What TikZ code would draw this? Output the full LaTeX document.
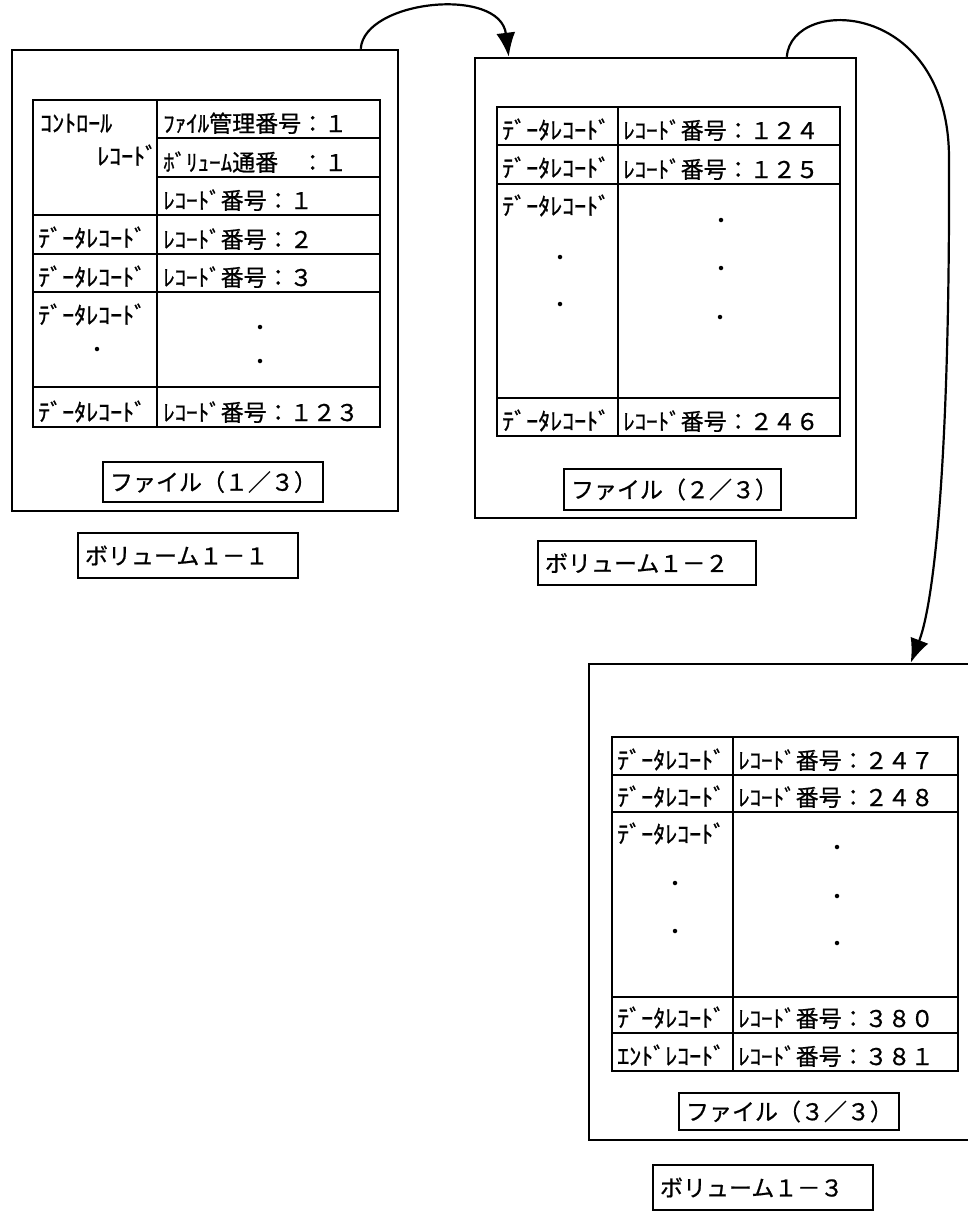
\documentclass[tikz,border=0pt]{standalone}
\usepackage{fontspec}
\setmainfont{Noto Sans CJK JP}[FakeBold=0.8]
\usetikzlibrary{arrows.meta}
\tikzset{
  ln/.style={line width=2.5pt},
  volbox/.style={draw, line width=2.5pt, inner sep=0pt},
  lbl/.style={draw, line width=2.5pt, inner sep=0pt, font=\fontsize{23}{26}\selectfont, align=left},
  lt/.style={inner sep=0pt, anchor=base west, font=\fontsize{24}{26}\selectfont},
  rt/.style={inner sep=0pt, anchor=base west, font=\fontsize{23}{26}\selectfont},
  dotc/.style={fill, circle, inner sep=0pt, minimum size=4.5pt},
  link/.style={line width=2.2pt, -{Latex[length=24pt,width=19pt]}}
}
\begin{document}
\begin{tikzpicture}[x=1pt,y=-1pt]
\useasboundingbox (0,0) rectangle (968,1213);
\begin{scope}
\clip (0,0) rectangle (968,1213);
% outer boxes
\node[volbox, minimum width=386pt, minimum height=461pt] (v1) at (205,280.5) {};
\node[volbox, minimum width=381pt, minimum height=460pt] (v2) at (665.5,288) {};
\node[volbox, minimum width=421pt, minimum height=476pt] (v3) at (799.5,902) {};

% ---------- table 1 ----------
\draw[ln] (33,100) rectangle (380,427);
\draw[ln] (157,100) -- (157,427);
\draw[ln] (157,138) -- (380,138);
\draw[ln] (157,177) -- (380,177);
\foreach \yy in {215,254,292,387} \draw[ln] (33,\yy) -- (380,\yy);
\node[lt] (t1a) at (40,132) {ｺﾝﾄﾛｰﾙ};
\node[lt] (t1b) at (97,165) {ﾚｺｰﾄﾞ};
\node[rt] (t1c) at (163,132) {ﾌｧｲﾙ管理番号：１};
\node[rt] (t1d) at (163,171) {ﾎﾞﾘｭｰﾑ通番　：１};
\node[rt] (t1e) at (163,209) {ﾚｺｰﾄﾞ番号：１};
\node[lt] (t1f) at (38,247) {ﾃﾞｰﾀﾚｺｰﾄﾞ};
\node[rt] (t1g) at (163,248) {ﾚｺｰﾄﾞ番号：２};
\node[lt] (t1h) at (38,286) {ﾃﾞｰﾀﾚｺｰﾄﾞ};
\node[rt] (t1i) at (163,286) {ﾚｺｰﾄﾞ番号：３};
\node[lt] (t1j) at (38,324) {ﾃﾞｰﾀﾚｺｰﾄﾞ};
\node[dotc] (d1a) at (97,349) {};
\node[dotc] (d1b) at (260,327) {};
\node[dotc] (d1c) at (260,361) {};
\node[lt] (t1k) at (38,421) {ﾃﾞｰﾀﾚｺｰﾄﾞ};
\node[rt] (t1l) at (163,421) {ﾚｺｰﾄﾞ番号：１２３};
\node[lbl, minimum width=220pt, minimum height=40pt, text width=206pt] (f1) at (213,482) {ファイル（１／３）};
\node[lbl, minimum width=220pt, minimum height=45pt, text width=206pt] (l1) at (188,555.5) {ボリューム１－１};

% ---------- table 2 ----------
\draw[ln] (497,107) rectangle (840,436);
\draw[ln] (618,107) -- (618,436);
\foreach \yy in {145,184,398} \draw[ln] (497,\yy) -- (840,\yy);
\node[lt] (t2a) at (502,139) {ﾃﾞｰﾀﾚｺｰﾄﾞ};
\node[rt] (t2b) at (623,139) {ﾚｺｰﾄﾞ番号：１２４};
\node[lt] (t2c) at (502,177) {ﾃﾞｰﾀﾚｺｰﾄﾞ};
\node[rt] (t2d) at (623,178) {ﾚｺｰﾄﾞ番号：１２５};
\node[lt] (t2e) at (502,215) {ﾃﾞｰﾀﾚｺｰﾄﾞ};
\node[dotc] (d2a) at (560,257) {};
\node[dotc] (d2b) at (560,304) {};
\node[dotc] (d2c) at (721,220) {};
\node[dotc] (d2d) at (721,268) {};
\node[dotc] (d2e) at (720,317) {};
\node[lt] (t2f) at (502,430) {ﾃﾞｰﾀﾚｺｰﾄﾞ};
\node[rt] (t2g) at (623,430) {ﾚｺｰﾄﾞ番号：２４６};
\node[lbl, minimum width=217pt, minimum height=41pt, text width=203pt] (f2) at (672.5,489.5) {ファイル（２／３）};
\node[lbl, minimum width=218pt, minimum height=44pt, text width=204pt] (l2) at (647,563) {ボリューム１－２};

% ---------- table 3 ----------
\draw[ln] (612,737) rectangle (958,1071);
\draw[ln] (733,737) -- (733,1071);
\foreach \yy in {775,812,997,1033} \draw[ln] (612,\yy) -- (958,\yy);
\node[lt] (t3a) at (617,769) {ﾃﾞｰﾀﾚｺｰﾄﾞ};
\node[rt] (t3b) at (738,769) {ﾚｺｰﾄﾞ番号：２４７};
\node[lt] (t3c) at (617,806) {ﾃﾞｰﾀﾚｺｰﾄﾞ};
\node[rt] (t3d) at (738,806) {ﾚｺｰﾄﾞ番号：２４８};
\node[lt] (t3e) at (617,843) {ﾃﾞｰﾀﾚｺｰﾄﾞ};
\node[dotc] (d3a) at (675,883) {};
\node[dotc] (d3b) at (675,931) {};
\node[dotc] (d3c) at (837,847) {};
\node[dotc] (d3d) at (837,896) {};
\node[dotc] (d3e) at (837,943) {};
\node[lt] (t3f) at (617,1027) {ﾃﾞｰﾀﾚｺｰﾄﾞ};
\node[rt] (t3g) at (738,1027) {ﾚｺｰﾄﾞ番号：３８０};
\node[lt] (t3h) at (617,1065) {ｴﾝﾄﾞﾚｺｰﾄﾞ};
\node[rt] (t3i) at (738,1065) {ﾚｺｰﾄﾞ番号：３８１};
\node[lbl, minimum width=220pt, minimum height=37pt, text width=206pt] (f3) at (789,1111.5) {ファイル（３／３）};
\node[lbl, minimum width=220pt, minimum height=45pt, text width=206pt] (l3) at (763,1187.5) {ボリューム１－３};

% ---------- connectors ----------
\draw[link] ([xshift=350pt]v1.north west) .. controls (364,0) and (500,-14) .. ([xshift=35pt]v2.north west);
\draw[link] ([xshift=313pt]v2.north west) .. controls (792,-5) and (950,0) .. (949,160)
  .. controls (950,450) and (935,600) .. ([xshift=323pt]v3.north west);
\end{scope}
\end{tikzpicture}
\end{document}
